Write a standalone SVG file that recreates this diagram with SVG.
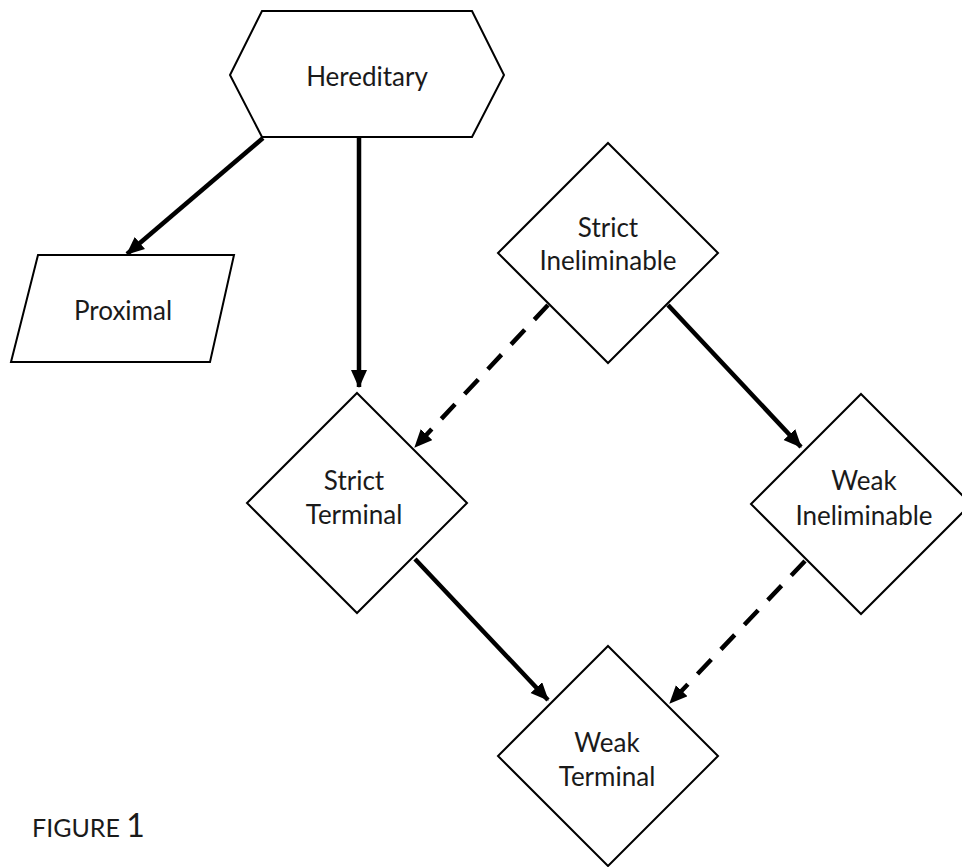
<svg xmlns="http://www.w3.org/2000/svg" width="962" height="867" viewBox="0 0 962 867">
<defs>
<style>
.shape{fill:#fff;stroke:#000;stroke-width:2;stroke-linejoin:miter}
.lbl{font-family:Lato,"Open Sans","Liberation Sans",sans-serif;font-size:26px;fill:#1a1a1a;text-anchor:middle}
.edge{fill:none;stroke:#000;stroke-width:4.5}
.dash{stroke-dasharray:20 14}
</style>
<marker id="ah" markerUnits="userSpaceOnUse" markerWidth="20" markerHeight="18" refX="17" refY="8" orient="auto">
<path d="M0,0 L18,8 L0,16 z" fill="#000"/>
</marker>
</defs>
<rect width="962" height="867" fill="#fff"/>
<g id="connectors">
<line class="edge" x1="263" y1="138" x2="127" y2="254" marker-end="url(#ah)"/>
<line class="edge" x1="359" y1="138" x2="359" y2="387" marker-end="url(#ah)"/>
<line class="edge dash" x1="548" y1="305" x2="415" y2="447" marker-end="url(#ah)"/>
<line class="edge" x1="668" y1="305" x2="801" y2="447" marker-end="url(#ah)"/>
<line class="edge" x1="415" y1="559" x2="548" y2="700" marker-end="url(#ah)"/>
<line class="edge dash" x1="805" y1="561" x2="670" y2="703" marker-end="url(#ah)"/>
</g>
<g id="hereditary">
<polygon class="shape" points="262,11 472,11 504,75 472,137 262,137 230,75"/>
<text class="lbl" x="367" y="86">Hereditary</text>
</g>
<g id="proximal">
<polygon class="shape" points="38,255 234,255 210,362 11,362"/>
<text class="lbl" x="123" y="320">Proximal</text>
</g>
<g id="strict-ineliminable">
<polygon class="shape" points="608,143 718,253 608,363 498,253"/>
<text class="lbl" x="608" y="237">Strict</text>
<text class="lbl" x="608" y="270">Ineliminable</text>
</g>
<g id="strict-terminal">
<polygon class="shape" points="357,393 467,503 357,613 247,503"/>
<text class="lbl" x="354" y="490">Strict</text>
<text class="lbl" x="354" y="524">Terminal</text>
</g>
<g id="weak-ineliminable">
<polygon class="shape" points="861,394 971,504 861,614 751,504"/>
<text class="lbl" x="864" y="490">Weak</text>
<text class="lbl" x="864" y="525">Ineliminable</text>
</g>
<g id="weak-terminal">
<polygon class="shape" points="608,646 718,756 608,866 498,756"/>
<text class="lbl" x="607" y="752">Weak</text>
<text class="lbl" x="607" y="786">Terminal</text>
</g>
<g id="caption">
<text x="32" y="837" style="font-family:Lato,'Open Sans','Liberation Sans',sans-serif;font-size:25px;fill:#1a1a1a">FIGURE <tspan style="font-size:32px">1</tspan></text>
</g>
</svg>
